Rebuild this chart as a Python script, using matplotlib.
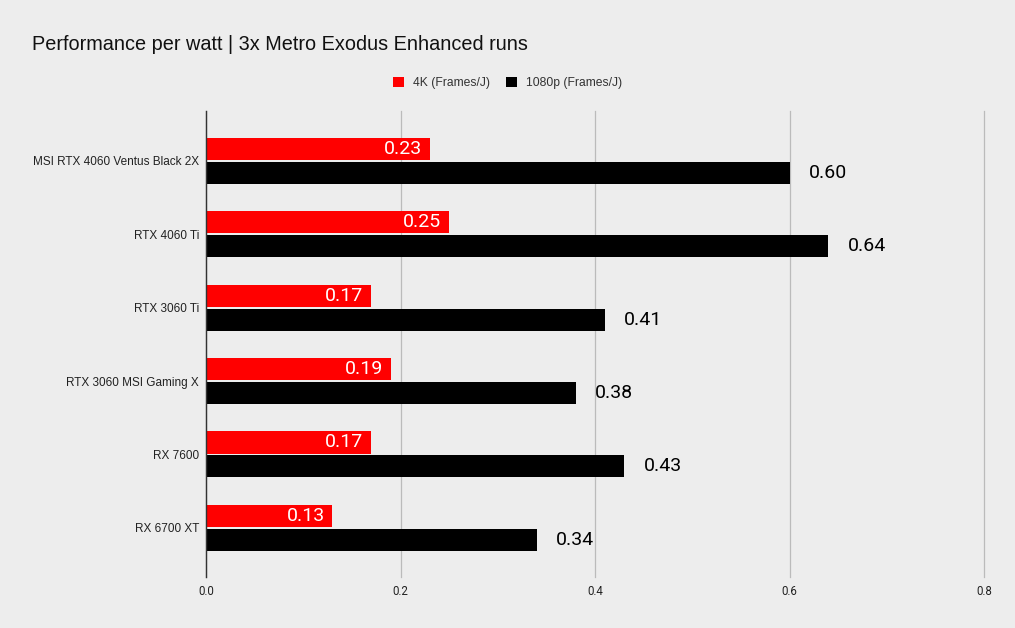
import matplotlib

matplotlib.use("Agg")
import matplotlib.pyplot as plt
import numpy as np

plt.rcParams["font.family"] = ["Roboto", "DejaVu Sans"]

gpus = [
    "MSI RTX 4060 Ventus Black 2X",
    "RTX 4060 Ti",
    "RTX 3060 Ti",
    "RTX 3060 MSI Gaming X",
    "RX 7600",
    "RX 6700 XT",
]
fps_per_j_4k = [0.23, 0.25, 0.17, 0.19, 0.17, 0.13]
fps_per_j_1080p = [0.60, 0.64, 0.41, 0.38, 0.43, 0.34]
x_ticks = [0.0, 0.2, 0.4, 0.6, 0.8]

bg = "#ededed"
red = "#ff0000"
black = "#000000"
sans = ["Liberation Sans", "DejaVu Sans"]

fig = plt.figure(figsize=(10.15, 6.28), dpi=100, facecolor=bg)
ax = fig.add_axes([0.203, 0.0812, 0.7665, 0.742])
ax.set_facecolor(bg)

y = np.arange(len(gpus))
h = 0.30
off = 0.163
bars_4k = ax.barh(y - off, fps_per_j_4k, height=h, color=red, label="4K (Frames/J)", zorder=3)
bars_1080 = ax.barh(y + off, fps_per_j_1080p, height=h, color=black, label="1080p (Frames/J)", zorder=3)

for rect, v in zip(bars_4k, fps_per_j_4k):
    ax.text(rect.get_width() - 0.008, rect.get_y() + rect.get_height() / 2, f"{v:.2f}",
            ha="right", va="center", color="white", fontsize=14, zorder=4)
for rect, v in zip(bars_1080, fps_per_j_1080p):
    ax.text(rect.get_width() + 0.02, rect.get_y() + rect.get_height() / 2, f"{v:.2f}",
            ha="left", va="center", color="black", fontsize=14, zorder=4)

ax.set_xlim(0, 0.8)
ax.set_ylim(5.67, -0.68)
ax.set_xticks(x_ticks)
ax.set_xticklabels([f"{t:.1f}" for t in x_ticks], fontsize=8.3, color="#222222")
ax.set_yticks(y)
ax.set_yticklabels(gpus, fontsize=8.5, color="#222222", family=sans)
ax.tick_params(length=0, pad=5)
ax.tick_params(axis="x", pad=6)
ax.grid(axis="x", color="#bbbbbb", linewidth=0.9, zorder=0)
for line in ax.get_xgridlines():
    line.set_clip_on(False)
for s in ["top", "right", "bottom"]:
    ax.spines[s].set_visible(False)
ax.spines["left"].set_color("#333333")
ax.spines["left"].set_linewidth(1.0)
ax.spines["left"].set_zorder(5)

fig.text(0.0315, 1 - 44 / 628, "Performance per watt | 3x Metro Exodus Enhanced runs",
         fontsize=14.3, va="center", ha="left", color="#111111", family=sans)

fig.legend(handles=[bars_4k, bars_1080], loc="center", bbox_to_anchor=(0.5, 1 - 83 / 628),
           ncol=2, frameon=False, handlelength=0.9, handleheight=0.9,
           handletextpad=0.75, columnspacing=1.3, labelcolor="#333333",
           prop={"family": sans, "size": 8.7})

fig.savefig("out.png", dpi=100, facecolor=bg)
